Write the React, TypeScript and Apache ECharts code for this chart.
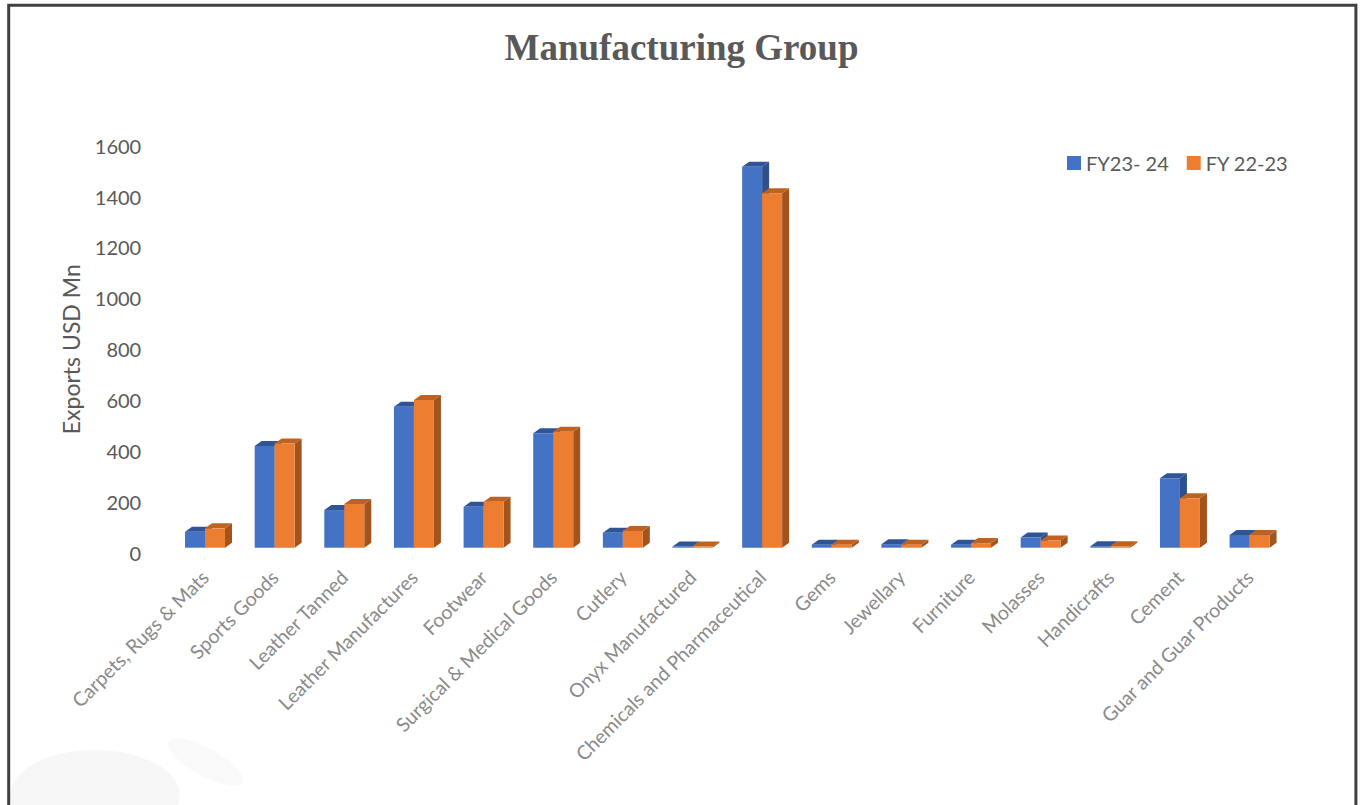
import React, { useEffect, useRef } from "react";
import * as echarts from "echarts";

const categories = [
  "Carpets, Rugs & Mats",
  "Sports Goods",
  "Leather Tanned",
  "Leather Manufactures",
  "Footwear",
  "Surgical & Medical Goods",
  "Cutlery",
  "Onyx Manufactured",
  "Chemicals and Pharmaceutical",
  "Gems",
  "Jewellary",
  "Furniture",
  "Molasses",
  "Handicrafts",
  "Cement",
  "Guar and Guar Products",
];

const fy2324 = [63, 400, 148, 554, 161, 450, 59, 5, 1498, 12, 14, 12, 40, 6, 273, 50];
const fy2223 = [76, 410, 172, 581, 181, 456, 66, 5, 1393, 12, 12, 18, 28, 6, 194, 50];

const seriesNames = ["FY23- 24", "FY 22-23"];
const yTicks = { min: 0, max: 1600, interval: 200 };

const palette = [
  { front: "#4472C4", top: "#2F5597", side: "#2E508C" },
  { front: "#ED7D31", top: "#C0621F", side: "#A4531C" },
];

function makeRenderer(idx: number) {
  const c = palette[idx];
  return (params: any, api: any) => {
    const cat = api.value(0);
    const v = api.value(1);
    const base = api.coord([cat, 0]);
    const top = api.coord([cat, v]);
    const band = api.size([1, 0])[0];
    const w = band * 0.287;
    const x0 = base[0] + (idx === 0 ? -w : 0);
    const off = 5;
    const dx = 7;
    const dy = 5;
    const yB = base[1] - off;
    const yT = top[1] - off;
    return {
      type: "group",
      children: [
        {
          type: "polygon",
          shape: { points: [[x0 + w, yT], [x0 + w + dx, yT - dy], [x0 + w + dx, yB - dy], [x0 + w, yB]] },
          style: { fill: c.side },
        },
        {
          type: "polygon",
          shape: { points: [[x0, yT], [x0 + dx, yT - dy], [x0 + w + dx, yT - dy], [x0 + w, yT]] },
          style: { fill: c.top },
        },
        {
          type: "rect",
          shape: { x: x0, y: yT, width: w, height: Math.max(yB - yT, 0) },
          style: { fill: c.front },
        },
      ],
    };
  };
}

export default function App() {
  const ref = useRef<HTMLDivElement>(null);
  useEffect(() => {
    if (!ref.current) return;
    const chart = echarts.init(ref.current, null, { renderer: "svg" });
    const font = "Lato, 'Open Sans', sans-serif";
    chart.setOption({
      animation: false,
      backgroundColor: "#ffffff",
      title: {
        text: "Manufacturing Group",
        left: "center",
        top: 24,
        textStyle: {
          fontFamily: "'Liberation Serif', 'DejaVu Serif', serif",
          fontWeight: "bold",
          fontSize: 37,
          color: "#595959",
        },
      },
      legend: {
        left: 1067,
        top: 153,
        padding: 0,
        itemWidth: 14,
        itemHeight: 14,
        itemGap: 18,
        data: seriesNames.map((n) => ({ name: n, icon: "rect" })),
        textStyle: { fontFamily: font, fontSize: 20, color: "#595959", padding: [0, 0, 0, 0] },
      },
      grid: { left: 170.2, right: 78.6, top: 145.7, bottom: 252.3, containLabel: false },
      xAxis: {
        type: "category",
        data: categories,
        axisLine: { show: false },
        axisTick: { show: false },
        axisLabel: {
          rotate: 45,
          interval: 0,
          margin: 21,
          fontFamily: font,
          fontSize: 19.5,
          color: "#8a8a8a",
        },
      },
      yAxis: {
        type: "value",
        min: yTicks.min,
        max: yTicks.max,
        interval: yTicks.interval,
        name: "Exports USD Mn",
        nameLocation: "middle",
        nameGap: 88,
        nameTextStyle: { fontFamily: font, fontSize: 23, color: "#595959" },
        axisLine: { show: false },
        axisTick: { show: false },
        splitLine: { show: false },
        axisLabel: {
          margin: 29,
          fontFamily: font,
          fontSize: 20,
          color: "#595959",
          formatter: (v: number) => String(v),
        },
      },
      graphic: [
        {
          type: "ellipse",
          shape: { cx: 95, cy: 795, rx: 85, ry: 45 },
          style: { fill: "rgba(0,0,0,0.03)", shadowBlur: 30, shadowColor: "rgba(0,0,0,0.06)" },
          silent: true,
        },
        {
          type: "ellipse",
          shape: { cx: 205, cy: 762, rx: 42, ry: 14 },
          style: { fill: "rgba(0,0,0,0.025)", shadowBlur: 20, shadowColor: "rgba(0,0,0,0.05)" },
          silent: true,
          rotation: -0.5,
          originX: 205,
          originY: 762,
        },
        {
          type: "rect",
          shape: { x: 8.7, y: 5.3, width: 1347.2, height: 830 },
          style: { fill: "none", stroke: "#404040", lineWidth: 3 },
          silent: true,
        },
      ],
      series: [fy2324, fy2223].map((vals, idx) => ({
        type: "custom",
        name: seriesNames[idx],
        itemStyle: { color: palette[idx].front },
        renderItem: makeRenderer(idx),
        encode: { x: 0, y: 1 },
        data: vals.map((v, i) => [i, v]),
      })),
    });
    return () => chart.dispose();
  }, []);
  return <div ref={ref} style={{ position: "fixed", left: 0, top: 0, width: 1363, height: 805 }} />;
}
